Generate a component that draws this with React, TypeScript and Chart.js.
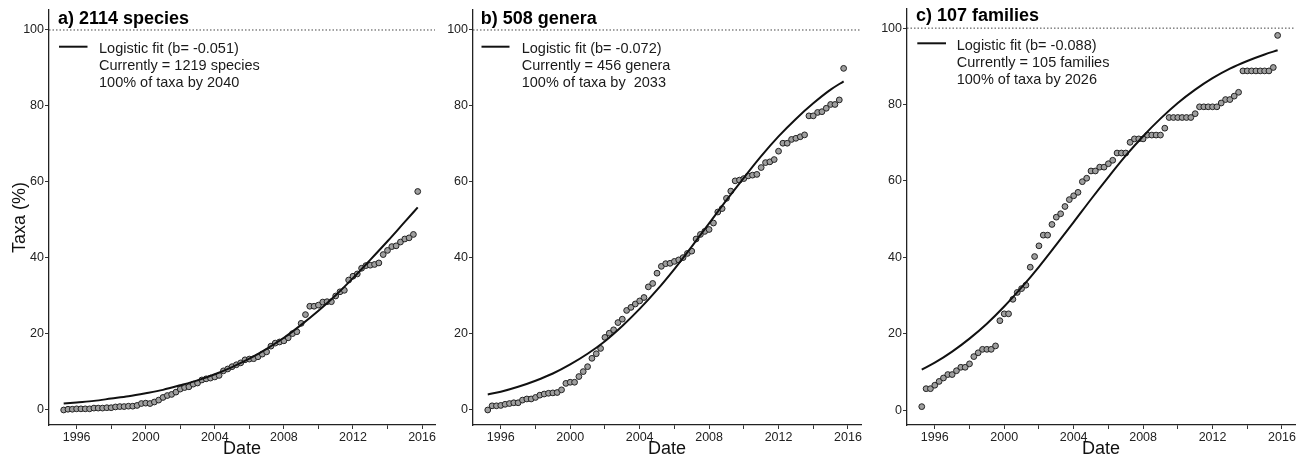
import React, { useEffect, useRef } from 'react';
import { Chart, registerables } from 'chart.js';

Chart.register(...registerables);

const FONT = '"Liberation Sans", Arial, Helvetica, sans-serif';

// Quarterly observation dates (decimal years)
const QUARTERS = [
  1995.25, 1995.5, 1995.75,
  1996, 1996.25, 1996.5, 1996.75,
  1997, 1997.25, 1997.5, 1997.75,
  1998, 1998.25, 1998.5, 1998.75,
  1999, 1999.25, 1999.5, 1999.75,
  2000, 2000.25, 2000.5, 2000.75,
  2001, 2001.25, 2001.5, 2001.75,
  2002, 2002.25, 2002.5, 2002.75,
  2003, 2003.25, 2003.5, 2003.75,
  2004, 2004.25, 2004.5, 2004.75,
  2005, 2005.25, 2005.5, 2005.75,
  2006, 2006.25, 2006.5, 2006.75,
  2007, 2007.25, 2007.5, 2007.75,
  2008, 2008.25, 2008.5, 2008.75,
  2009, 2009.25, 2009.5, 2009.75,
  2010, 2010.25, 2010.5, 2010.75,
  2011, 2011.25, 2011.5, 2011.75,
  2012, 2012.25, 2012.5, 2012.75,
  2013, 2013.25, 2013.5, 2013.75,
  2014, 2014.25, 2014.5, 2014.75,
  2015, 2015.25, 2015.5, 2015.75,
];

// Observed taxa (%) per quarter
const SPECIES_PCT = [
  0, 0.2, 0.2, 0.3, 0.3, 0.3, 0.3, 0.5, 0.5, 0.5, 0.6, 0.6, 0.8, 0.9, 0.9, 1.0, 1.0,
  1.2, 1.7, 1.8, 1.7, 2.1, 2.6, 3.3, 3.8, 4.1, 4.7, 5.5, 5.9, 6.1, 6.8, 7.1, 7.9, 8.2,
  8.4, 8.7, 9.1, 10.3, 10.8, 11.4, 11.9, 12.4, 13.2, 13.4, 13.5, 14.0, 14.7, 15.3, 16.8,
  17.6, 17.9, 18.2, 19.0, 20.1, 20.6, 22.8, 25.1, 27.3, 27.3, 27.6, 28.4, 28.5, 28.5,
  30.0, 31.1, 31.5, 34.2, 35.2, 35.8, 37.3, 38.0, 38.1, 38.3, 38.7, 40.9, 42.0, 43.0,
  43.2, 44.2, 45.0, 45.3, 46.2, 57.5,
];

const GENERA_PCT = [
  0, 1.1, 1.1, 1.2, 1.5, 1.7, 1.9, 1.9, 2.6, 2.9, 2.9, 3.3, 3.9, 4.2, 4.4, 4.5, 4.6,
  5.3, 7.0, 7.3, 7.3, 8.8, 10.1, 11.4, 13.6, 14.8, 16.2, 19.1, 20.2, 21.1, 23.0, 23.9,
  26.2, 27.0, 27.9, 28.7, 29.6, 32.4, 33.3, 36.0, 37.8, 38.5, 38.6, 39.1, 39.5, 40.1,
  41.2, 41.8, 45.0, 46.2, 47.0, 47.5, 49.2, 52.1, 53.0, 55.7, 57.6, 60.3, 60.5, 60.9,
  61.6, 61.8, 62.0, 63.8, 65.1, 65.3, 65.9, 68.1, 70.2, 70.2, 71.2, 71.5, 71.9, 72.4,
  77.4, 77.4, 78.3, 78.5, 79.4, 80.4, 80.4, 81.6, 89.9,
];

const FAMILIES_PCT = [
  0.9, 5.6, 5.6, 6.5, 7.5, 8.4, 9.3, 9.3, 10.3, 11.2,
  11.2, 12.1, 14.0, 15.0, 15.9, 15.9, 15.9, 16.8, 23.4, 25.2,
  25.2, 29.0, 30.8, 31.8, 32.7, 37.4, 40.2, 43.0, 45.8, 45.8,
  48.6, 50.5, 51.4, 53.3, 55.1, 56.1, 57.0, 59.8, 60.7, 62.6,
  62.6, 63.6, 63.6, 64.5, 65.4, 67.3, 67.3, 67.3, 70.1, 71.0,
  71.0, 71.0, 72.0, 72.0, 72.0, 72.0, 73.8, 76.6, 76.6, 76.6,
  76.6, 76.6, 76.6, 77.6, 79.4, 79.4, 79.4, 79.4, 79.4, 80.4,
  81.3, 81.3, 82.2, 83.2, 88.8, 88.8, 88.8, 88.8, 88.8, 88.8,
  88.8, 89.7, 98.1,
];

// Logistic fit curves
const FIT_YEARS = [
  1995.25, 1996, 1997, 1998, 1999, 2000, 2001, 2002, 2003, 2004, 2005,
  2006, 2007, 2008, 2009, 2010, 2011, 2012, 2013, 2014, 2015, 2015.75,
];
const SPECIES_FIT = [
  1.7, 2.0, 2.4, 3.0, 3.6, 4.4, 5.3, 6.5, 7.8, 9.4, 11.3,
  13.5, 16.1, 19.0, 22.4, 26.1, 30.2, 34.7, 39.5, 44.4, 49.5, 53.3,
];
const GENERA_FIT = [
  4.1, 4.8, 6.1, 7.7, 9.6, 12.0, 14.8, 18.1, 22.1, 26.6, 31.6,
  37.1, 43.0, 49.1, 55.2, 61.1, 66.8, 72.0, 76.6, 80.7, 84.3, 86.5,
];
const FAMILIES_FIT = [
  10.6, 12.4, 15.3, 18.7, 22.6, 27.1, 32.1, 37.5, 43.3, 49.2, 55.2,
  61.0, 66.6, 71.7, 76.3, 80.4, 83.9, 86.9, 89.4, 91.4, 93.1, 94.2,
];

const X_TICKS = [1996, 1998, 2000, 2002, 2004, 2006, 2008, 2010, 2012, 2014, 2016];
const X_LABELED = [1996, 2000, 2004, 2008, 2012, 2016];
const Y_TICKS = [0, 20, 40, 60, 80, 100];
const REF_LEVEL = 100;
const X_MIN = 1994.4;
const X_MAX = 2016.75;

const PANEL_TITLES = ['a) 2114 species', 'b) 508 genera', 'c) 107 families'];
const LEGEND_TEXTS = [
  ['Logistic fit (b= -0.051)', 'Currently = 1219 species', '100% of taxa by 2040'],
  ['Logistic fit (b= -0.072)', 'Currently = 456 genera', '100% of taxa by  2033'],
  ['Logistic fit (b= -0.088)', 'Currently = 105 families', '100% of taxa by 2026'],
];

type PanelCfg = {
  left: number;
  width: number;
  yWidth: number;
  padRight: number;
  padTop: number;
  yMin: number;
  yMax: number;
  yTitle: boolean;
  title: string;
  titleX: number;
  titleY: number;
  legend: string[];
  lx1: number;
  lx2: number;
  ly: number;
  tx: number;
  tys: number[];
  obs: number[];
  fit: number[];
};

const PANELS: PanelCfg[] = [
  {
    left: 0, width: 440, yWidth: 49, padRight: 3, padTop: 10, yMin: -3.95, yMax: 105.26,
    yTitle: true, title: PANEL_TITLES[0], titleX: 58, titleY: 24,
    legend: LEGEND_TEXTS[0], lx1: 59, lx2: 87.5, ly: 46.7, tx: 99, tys: [53.3, 70.3, 87.3],
    obs: SPECIES_PCT, fit: SPECIES_FIT,
  },
  {
    left: 440, width: 430, yWidth: 33, padRight: 9, padTop: 10, yMin: -3.95, yMax: 105.26,
    yTitle: false, title: PANEL_TITLES[1], titleX: 40.7, titleY: 24,
    legend: LEGEND_TEXTS[1], lx1: 41.5, lx2: 69.5, ly: 46.7, tx: 81.7, tys: [53.3, 70.3, 87.3],
    obs: GENERA_PCT, fit: GENERA_FIT,
  },
  {
    left: 870, width: 431, yWidth: 37, padRight: 6, padTop: 7, yMin: -3.91, yMax: 105.14,
    yTitle: false, title: PANEL_TITLES[2], titleX: 46, titleY: 21,
    legend: LEGEND_TEXTS[2], lx1: 47.3, lx2: 76, ly: 43.3, tx: 86.7, tys: [50, 67, 84],
    obs: FAMILIES_PCT, fit: FAMILIES_FIT,
  },
];

const H = 459;

function Panel({ cfg }: { cfg: PanelCfg }) {
  const ref = useRef<HTMLCanvasElement>(null);

  useEffect(() => {
    if (!ref.current) return;
    const overlay = {
      id: 'overlay' + cfg.left,
      afterDraw(chart: any) {
        const ctx = chart.ctx;
        ctx.save();
        ctx.fillStyle = '#000';
        ctx.textBaseline = 'alphabetic';
        ctx.textAlign = 'left';
        ctx.font = `bold 18px ${FONT}`;
        ctx.fillText(cfg.title, cfg.titleX, cfg.titleY);
        ctx.strokeStyle = '#111';
        ctx.lineWidth = 2;
        ctx.beginPath();
        ctx.moveTo(cfg.lx1, cfg.ly);
        ctx.lineTo(cfg.lx2, cfg.ly);
        ctx.stroke();
        ctx.font = `14.5px ${FONT}`;
        ctx.fillStyle = '#1a1a1a';
        cfg.legend.forEach((t, i) => ctx.fillText(t, cfg.tx, cfg.tys[i]));
        ctx.restore();
      },
    };

    const chart = new Chart(ref.current, {
      type: 'scatter',
      data: {
        datasets: [
          {
            label: 'fit',
            data: FIT_YEARS.map((x, i) => ({ x, y: cfg.fit[i] })),
            showLine: true,
            borderColor: '#111',
            borderWidth: 2,
            pointRadius: 0,
            cubicInterpolationMode: 'monotone',
            order: 0,
          } as any,
          {
            label: 'obs',
            data: QUARTERS.map((x, i) => ({ x, y: cfg.obs[i] })),
            pointRadius: 2.9,
            pointBackgroundColor: '#9e9e9e',
            pointBorderColor: '#222',
            pointBorderWidth: 1,
            order: 1,
          } as any,
          {
            label: 'ref',
            data: [
              { x: X_MIN, y: REF_LEVEL },
              { x: X_MAX, y: REF_LEVEL },
            ],
            showLine: true,
            borderColor: '#444',
            borderWidth: 1,
            borderDash: [1.5, 2],
            pointRadius: 0,
            order: 2,
          } as any,
        ],
      },
      options: {
        responsive: false,
        animation: false,
        devicePixelRatio: 1,
        events: [],
        layout: { padding: { left: 0, right: cfg.padRight, top: cfg.padTop, bottom: 0 } },
        plugins: {
          legend: { display: false },
          tooltip: { enabled: false },
          title: { display: false },
        },
        scales: {
          x: {
            type: 'linear',
            min: X_MIN,
            max: X_MAX,
            afterBuildTicks: (s: any) => {
              s.ticks = X_TICKS.map((v) => ({ value: v }));
            },
            afterFit: (s: any) => {
              s.height = 34;
            },
            grid: {
              display: true,
              drawOnChartArea: false,
              drawTicks: true,
              tickLength: 4,
              color: '#333',
              lineWidth: 1,
            },
            border: { display: true, color: '#222', width: 1.3 },
            ticks: {
              autoSkip: false,
              maxRotation: 0,
              minRotation: 0,
              padding: 1,
              color: '#222',
              font: { family: FONT, size: 12.5 },
              callback: (v: any) => (X_LABELED.includes(Number(v)) ? String(v) : ''),
            },
            title: {
              display: true,
              text: 'Date',
              color: '#111',
              font: { family: FONT, size: 18, lineHeight: 1 },
              padding: { top: 0, bottom: 0.5 },
            },
          },
          y: {
            type: 'linear',
            min: cfg.yMin,
            max: cfg.yMax,
            afterBuildTicks: (s: any) => {
              s.ticks = Y_TICKS.map((v) => ({ value: v }));
            },
            afterFit: (s: any) => {
              s.width = cfg.yWidth;
            },
            grid: {
              display: true,
              drawOnChartArea: false,
              drawTicks: true,
              tickLength: 4,
              color: '#333',
              lineWidth: 1,
            },
            border: { display: true, color: '#222', width: 1.3 },
            ticks: {
              autoSkip: false,
              padding: 1,
              color: '#222',
              font: { family: FONT, size: 12.5 },
              callback: (v: any) => String(v),
            },
            title: cfg.yTitle
              ? {
                  display: true,
                  text: 'Taxa (%)',
                  color: '#111',
                  font: { family: FONT, size: 18, lineHeight: 1 },
                  padding: { top: 11, bottom: 0 },
                }
              : { display: false },
          },
        },
      } as any,
      plugins: [overlay],
    });
    return () => chart.destroy();
  }, []);

  return (
    <div style={{ position: 'absolute', left: cfg.left, top: 0, width: cfg.width, height: H }}>
      <canvas
        ref={ref}
        width={cfg.width}
        height={H}
        style={{ width: cfg.width, height: H, display: 'block' }}
      />
    </div>
  );
}

export default function App() {
  return (
    <div
      style={{
        position: 'fixed',
        left: 0,
        top: 0,
        width: 1301,
        height: H,
        background: '#fff',
        overflow: 'hidden',
      }}
    >
      {PANELS.map((p) => (
        <Panel key={p.left} cfg={p} />
      ))}
    </div>
  );
}
